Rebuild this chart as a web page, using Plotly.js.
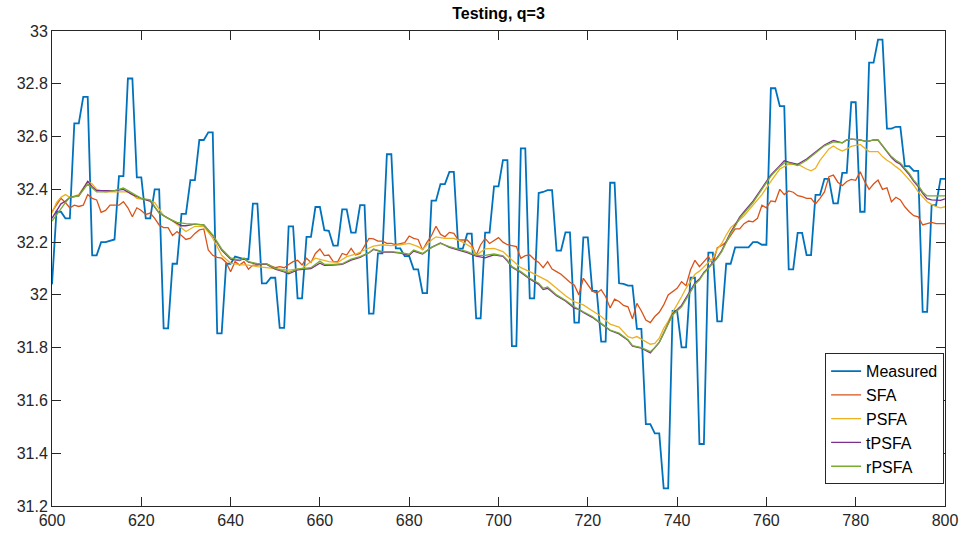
<!DOCTYPE html>
<html>
<head>
<meta charset="utf-8">
<script src="https://cdn.plot.ly/plotly-3.0.1.min.js"></script>
<style>html,body{margin:0;padding:0;background:#fff;}#chart{width:965px;height:536px;}</style>
</head>
<body>
<div id="chart"></div>
<script>
// ---- DATA ----
var chartTitle = "Testing, q=3";
var seriesNames = ["Measured", "SFA", "PSFA", "tPSFA", "rPSFA"];
var xStart = 600;

var measured = [
32.04,32.315,32.315,32.29,32.29,32.65,32.65,32.75,32.75,32.15,
32.15,32.2,32.2,32.205,32.21,32.45,32.45,32.82,32.82,32.445,
32.445,32.29,32.29,32.40,32.40,31.873,31.873,32.118,32.118,32.307,
32.307,32.435,32.435,32.587,32.587,32.616,32.616,31.854,31.854,32.118,
32.118,32.145,32.14,32.136,32.135,32.346,32.346,32.044,32.044,32.065,
32.065,31.875,31.875,32.26,32.26,31.987,31.987,32.22,32.22,32.333,
32.333,32.245,32.243,32.187,32.187,32.324,32.324,32.236,32.236,32.34,
32.34,31.929,31.929,32.157,32.157,32.533,32.533,32.176,32.176,32.147,
32.147,32.097,32.097,32.007,32.007,32.357,32.357,32.42,32.42,32.466,
32.466,32.175,32.175,32.232,32.232,31.911,31.911,32.236,32.236,32.411,
32.411,32.511,32.511,31.806,31.806,32.555,32.555,31.987,31.987,32.386,
32.39,32.397,32.397,32.168,32.168,32.237,32.237,31.895,31.895,32.218,
32.218,32.015,32.015,31.823,31.823,32.425,32.425,32.044,32.042,32.035,
32.035,31.871,31.871,31.51,31.51,31.475,31.475,31.267,31.267,31.939,
31.939,31.801,31.801,32.065,32.065,31.435,31.435,32.16,32.16,31.9,
31.9,32.118,32.118,32.18,32.18,32.18,32.18,32.2,32.2,32.19,
32.19,32.783,32.783,32.715,32.715,32.097,32.097,32.235,32.235,32.151,
32.151,32.379,32.379,32.44,32.44,32.347,32.347,32.462,32.462,32.73,
32.73,32.315,32.315,32.88,32.88,32.967,32.967,32.63,32.63,32.637,
32.637,32.488,32.488,32.47,32.47,31.936,31.936,32.34,32.34,32.44,
32.44
];

var sfa = [
32.315,32.34,32.366,32.35,32.33,32.34,32.335,32.34,32.38,32.366,
32.36,32.313,32.32,32.34,32.34,32.34,32.353,32.33,32.296,32.33,
32.32,32.305,32.31,32.29,32.265,32.255,32.255,32.225,32.24,32.223,
32.21,32.215,32.233,32.246,32.25,32.17,32.15,32.142,32.139,32.123,
32.088,32.126,32.113,32.126,32.097,32.113,32.113,32.116,32.118,32.11,
32.103,32.107,32.103,32.115,32.126,32.131,32.113,32.139,32.123,32.157,
32.174,32.149,32.151,32.126,32.126,32.157,32.151,32.176,32.151,32.157,
32.183,32.214,32.212,32.204,32.204,32.195,32.195,32.19,32.194,32.198,
32.223,32.214,32.21,32.17,32.20,32.225,32.26,32.23,32.22,32.237,
32.233,32.208,32.208,32.208,32.19,32.15,32.19,32.214,32.195,32.206,
32.217,32.2,32.19,32.187,32.183,32.139,32.149,32.151,32.135,32.123,
32.103,32.126,32.098,32.088,32.078,32.063,32.048,32.037,32.0,32.063,
32.037,32.015,32.006,32.02,31.993,31.95,31.984,31.975,31.96,31.955,
31.909,31.968,31.939,31.905,31.895,31.918,31.934,31.962,32.0,32.012,
32.025,32.05,32.035,32.094,32.131,32.107,32.126,32.145,32.116,32.179,
32.187,32.2,32.225,32.25,32.25,32.27,32.28,32.277,32.29,32.34,
32.33,32.356,32.353,32.40,32.38,32.394,32.389,32.376,32.372,32.366,
32.366,32.345,32.366,32.39,32.448,32.454,32.427,32.414,32.43,32.438,
32.434,32.467,32.43,32.40,32.42,32.435,32.40,32.406,32.353,32.37,
32.36,32.334,32.315,32.30,32.296,32.265,32.27,32.275,32.27,32.27,
32.27
];

var psfaX = [600,601,602,603,604,606,608,609,610,612,614,616,617,618,619,621,623,625,627,630,632,634,636,638,640,642,644,646,648,650,653,656,659,662,664,666,668,670,672,674,676,678,680,682,683,685,686,688,690,692,694,695,697,699,701,703,705,707,709,711,713,715,717,719,721,723,725,727,729,730,731,733,734,735,736,737,738,739,740,741,742,743,744,745,746,747,748,749,750,751,752,753,755,757,759,761,763,765,767,769,770,771,772,774,775,776,777,778,779,781,782,783,785,786,787,788,789,790,791,792,793,794,795,796,797,798,799,800];
var psfaY = [32.31,32.35,32.37,32.38,32.37,32.38,32.43,32.42,32.40,32.39,32.39,32.39,32.39,32.38,32.366,32.36,32.35,32.30,32.28,32.24,32.26,32.26,32.215,32.15,32.12,32.115,32.113,32.107,32.103,32.098,32.094,32.10,32.139,32.126,32.123,32.145,32.154,32.17,32.185,32.19,32.187,32.19,32.195,32.183,32.172,32.208,32.22,32.214,32.214,32.20,32.18,32.15,32.174,32.176,32.164,32.132,32.103,32.088,32.069,32.053,32.025,31.997,31.974,31.962,31.94,31.918,31.889,31.878,31.842,31.836,31.842,31.823,31.813,31.816,31.836,31.873,31.90,31.934,31.962,31.993,32.025,32.053,32.078,32.09,32.107,32.123,32.139,32.174,32.195,32.227,32.255,32.27,32.30,32.34,32.38,32.43,32.477,32.495,32.495,32.477,32.47,32.48,32.51,32.553,32.564,32.553,32.545,32.553,32.563,32.57,32.555,32.543,32.543,32.524,32.51,32.50,32.486,32.473,32.455,32.435,32.416,32.39,32.37,32.353,32.343,32.334,32.33,32.334];

var tpsfaX = [600,602,603,604,606,608,609,610,612,614,616,618,620,622,624,626,628,629,630,632,634,636,638,640,642,643,644,646,648,650,652,653,655,658,660,661,663,665,667,669,671,672,674,676,678,680,681,683,685,687,689,691,693,695,697,699,701,702,703,705,707,709,710,711,713,715,717,718,719,721,723,725,727,728,729,730,732,734,735,736,737,738,739,741,742,743,744,745,746,747,748,749,750,751,752,753,754,755,757,759,761,763,764,765,767,769,771,773,775,776,777,778,779,781,782,783,784,785,786,787,788,789,790,791,792,793,794,795,796,797,798,799,800];
var tpsfaY = [32.29,32.345,32.355,32.37,32.375,32.43,32.41,32.395,32.395,32.395,32.4,32.38,32.366,32.355,32.31,32.29,32.27,32.262,32.262,32.268,32.265,32.225,32.17,32.135,32.13,32.138,32.124,32.116,32.116,32.098,32.087,32.08,32.095,32.1,32.12,32.112,32.113,32.116,32.132,32.142,32.16,32.172,32.162,32.162,32.158,32.15,32.166,32.155,32.18,32.197,32.18,32.17,32.16,32.147,32.14,32.152,32.146,32.128,32.105,32.085,32.06,32.04,32.02,32.025,31.997,31.977,31.95,31.945,31.933,31.915,31.89,31.865,31.852,31.84,31.828,31.806,31.798,31.78,31.798,31.82,31.855,31.895,31.928,31.96,31.99,32.017,32.045,32.06,32.085,32.103,32.123,32.142,32.168,32.205,32.238,32.265,32.295,32.315,32.355,32.405,32.455,32.49,32.508,32.503,32.495,32.515,32.54,32.568,32.585,32.58,32.576,32.587,32.59,32.587,32.583,32.583,32.587,32.587,32.565,32.54,32.52,32.505,32.495,32.475,32.455,32.43,32.41,32.385,32.365,32.36,32.36,32.358,32.364];

var rpsfaX = [600,602,603,604,606,608,609,610,612,614,616,618,620,622,624,626,628,630,632,634,636,638,640,642,643,644,646,648,650,652,653,655,658,660,661,663,665,667,669,671,672,674,676,678,680,681,683,685,687,689,691,693,695,697,699,701,702,703,705,707,709,710,711,713,715,717,719,721,723,725,727,728,729,730,732,734,735,736,737,738,739,741,742,743,744,745,746,747,748,749,750,751,752,753,754,755,757,759,761,763,764,765,767,769,771,773,775,776,777,778,779,781,782,783,784,785,786,787,788,789,790,791,792,793,794,795,796,797,798,800];
var rpsfaY = [32.28,32.33,32.35,32.37,32.375,32.42,32.405,32.39,32.39,32.395,32.405,32.385,32.366,32.36,32.31,32.29,32.275,32.27,32.268,32.265,32.227,32.174,32.14,32.132,32.14,32.126,32.118,32.118,32.10,32.09,32.085,32.098,32.103,32.128,32.116,32.116,32.118,32.136,32.145,32.16,32.174,32.164,32.164,32.16,32.154,32.17,32.157,32.18,32.195,32.183,32.174,32.164,32.15,32.15,32.155,32.148,32.132,32.107,32.088,32.063,32.044,32.025,32.03,32.0,31.98,31.955,31.936,31.918,31.892,31.867,31.855,31.842,31.83,31.808,31.80,31.785,31.80,31.82,31.854,31.892,31.924,31.955,31.985,32.012,32.04,32.056,32.082,32.10,32.12,32.139,32.164,32.20,32.233,32.26,32.29,32.31,32.35,32.40,32.45,32.486,32.50,32.50,32.49,32.51,32.536,32.565,32.58,32.578,32.576,32.587,32.59,32.587,32.583,32.583,32.587,32.587,32.568,32.545,32.524,32.51,32.50,32.48,32.46,32.435,32.416,32.39,32.375,32.375,32.375,32.375];

var xTicks = [600,620,640,660,680,700,720,740,760,780,800];
var yTicks = [31.2,31.4,31.6,31.8,32,32.2,32.4,32.6,32.8,33];

// ---- BUILD ----
var xIdx = [];
for (var i = 0; i < measured.length; i++) xIdx.push(xStart + i);

var colors = ["#0072BD", "#D95319", "#EDB120", "#7E2F8E", "#77AC30"];
var traces = [
  {x: xIdx, y: measured, name: seriesNames[0], mode: "lines", line: {color: colors[0], width: 1.8}},
  {x: xIdx, y: sfa, name: seriesNames[1], mode: "lines", line: {color: colors[1], width: 1.3}},
  {x: psfaX, y: psfaY, name: seriesNames[2], mode: "lines", line: {color: colors[2], width: 1.3}},
  {x: tpsfaX, y: tpsfaY, name: seriesNames[3], mode: "lines", line: {color: colors[3], width: 1.3}},
  {x: rpsfaX, y: rpsfaY, name: seriesNames[4], mode: "lines", line: {color: colors[4], width: 1.3}}
];

var axisCommon = {
  showgrid: false, zeroline: false, showline: true, linecolor: "#262626", linewidth: 1,
  mirror: "ticks", ticks: "inside", ticklen: 9, tickcolor: "#262626", tickwidth: 1,
  tickfont: {family: "Liberation Sans, Arial, sans-serif", size: 16, color: "#262626"}
};

var layout = {
  width: 965, height: 536,
  margin: {l: 52, r: 20, t: 31, b: 30, pad: 0},
  paper_bgcolor: "#ffffff", plot_bgcolor: "#ffffff",
  title: {text: "<b>" + chartTitle + "</b>", x: 0.5, xref: "paper", y: 0.975, yanchor: "middle",
          font: {family: "Liberation Sans, Arial, sans-serif", size: 16, color: "#000000"}},
  xaxis: Object.assign({}, axisCommon, {range: [600, 800], tickvals: xTicks, ticktext: xTicks.map(String)}),
  yaxis: Object.assign({}, axisCommon, {range: [31.2, 33], tickvals: yTicks, ticktext: yTicks.map(String)}),
  showlegend: true,
  legend: {x: 0.999, xanchor: "right", y: 0.046, yanchor: "bottom",
           bgcolor: "#ffffff", bordercolor: "#262626", borderwidth: 1,
           font: {family: "Liberation Sans, Arial, sans-serif", size: 16, color: "#000000"},
           tracegroupgap: 0, itemwidth: 30}
};

Plotly.newPlot("chart", traces, layout, {displayModeBar: false, staticPlot: true});
</script>
</body>
</html>
